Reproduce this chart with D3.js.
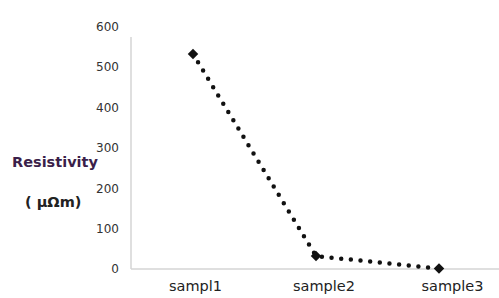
<!DOCTYPE html>
<html>
<head>
<meta charset="utf-8">
<script src="https://cdn.jsdelivr.net/npm/d3@7"></script>
<style>
body { margin: 0; background: #fff; }
svg text { font-family: "DejaVu Sans", Verdana, sans-serif; }
</style>
</head>
<body>
<svg id="chart"></svg>
<script>
var width = 499;
var height = 298;

var categories = ["sampl1", "sample2", "sample3"];
var resistivity = [532, 32, 1];
var yTicks = [0, 100, 200, 300, 400, 500, 600];

var svg = d3.select("#chart")
.attr("width", width)
.attr("height", height);

var x = d3.scalePoint()
.domain(categories)
.range([193, 439]);

// labels sit a little right of the points in the original
var xLabel = d3.scalePoint()
.domain(categories)
.range([195, 452]);

var y = d3.scaleLinear()
.domain([0, 600])
.range([269, 26.5]);

// axis lines
svg.append("line")
.attr("x1", 131).attr("x2", 131)
.attr("y1", 37).attr("y2", 269)
.style("stroke", "#d4d4d4")
.style("stroke-width", 1.5);

svg.append("line")
.attr("x1", 131).attr("x2", width)
.attr("y1", 269).attr("y2", 269)
.style("stroke", "#d4d4d4")
.style("stroke-width", 1.5);

// y tick labels
var yAxis = d3.axisLeft(y)
.tickValues(yTicks)
.tickSize(0)
.tickPadding(0);

var yg = svg.append("g")
.attr("transform", "translate(119,0)")
.call(yAxis);
yg.select(".domain").remove();
yg.selectAll("text")
.style("font-size", "12px")
.style("font-family", "'DejaVu Sans', sans-serif")
.style("fill", "#333");

// x labels
var xAxis = d3.axisBottom(xLabel)
.tickSize(0)
.tickPadding(0);

var xg = svg.append("g")
.attr("transform", "translate(0,281)")
.call(xAxis);
xg.select(".domain").remove();
xg.selectAll("text")
.style("font-size", "14.5px")
.style("font-family", "'DejaVu Sans', sans-serif")
.style("fill", "#222");

// y title
svg.append("text")
.attr("x", 12)
.attr("y", 167)
.style("font-size", "14.5px")
.style("font-weight", "bold")
.style("fill", "#3b1f4a")
.text("Resistivity");

svg.append("text")
.attr("x", 25)
.attr("y", 207)
.style("font-size", "14.5px")
.style("font-weight", "bold")
.style("fill", "#222")
.text("( μΩm)");

// dotted line
var line = d3.line()
.x(function (d, i) { return x(categories[i]); })
.y(function (d) { return y(d); });

svg.append("path")
.datum(resistivity)
.attr("d", line)
.style("fill", "none")
.style("stroke", "#111")
.style("stroke-width", 4.5)
.style("stroke-linecap", "round")
.style("stroke-dasharray", "0 9.7");

// diamond markers
svg.selectAll(".marker")
.data(resistivity)
.enter()
.append("path")
.attr("class", "marker")
.attr("d", d3.symbol().type(d3.symbolDiamond2).size(70))
.attr("transform", function (d, i) {
	return "translate(" + x(categories[i]) + "," + y(d) + ")";
})
.style("fill", "#111");
</script>
</body>
</html>
